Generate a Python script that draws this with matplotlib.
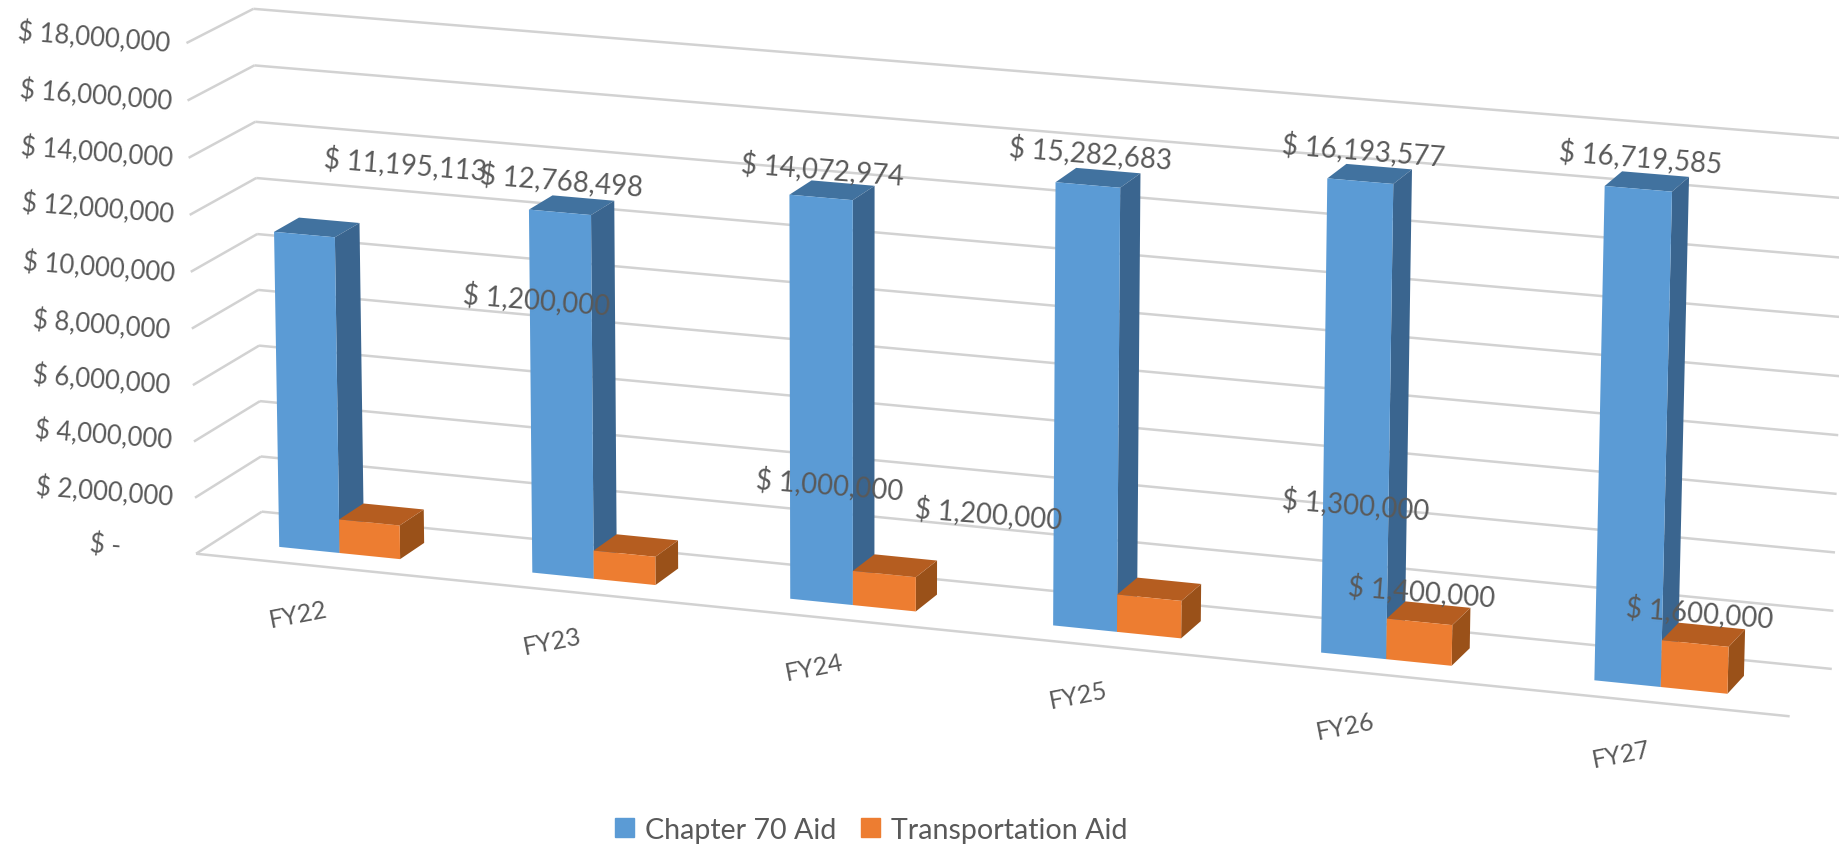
import numpy as np
import matplotlib
matplotlib.use("Agg")
import matplotlib.pyplot as plt
from matplotlib.patches import Patch
from mpl_toolkits.mplot3d.art3d import Line3DCollection

W, H = 1839, 845
categories = ["FY22", "FY23", "FY24", "FY25", "FY26", "FY27"]
chapter70 = [11195113, 12768498, 14072974, 15282683, 16193577, 16719585]
transport = [1200000, 1000000, 1200000, 1300000, 1400000, 1600000]
yticks = [0, 2000000, 4000000, 6000000, 8000000, 10000000, 12000000, 14000000, 16000000, 18000000]
series_names = ["Chapter 70 Aid", "Transportation Aid"]

# camera calibration: world points (category, depth, $M) -> reference pixels
world_anchor = [(0, 0, 0), (0, 1, 0), (0, 0, 18), (0, 1, 18), (6, 0, 0), (6, 1, 0), (6, 1, 18),
                (0.25, 0.31, 11.195), (0.25, 0.31, 0), (5.25, 0.31, 16.72), (5.25, 0.31, 0)]
pixel_anchor = [(196, 554), (261, 512), (186, 43), (254, 10), (1789, 717), (1832, 670), (1846, 139),
                (274, 235), (280, 548), (1605, 187), (1595, 682)]

# layout of text in reference pixels
ytick_pos = [(105, 546), (104, 493), (103, 436), (101.5, 381), (101, 326), (99, 268), (98, 209), (97, 153), (95.5, 96), (94, 38)]
cat_pos = [(298, 615), (552, 642), (814, 668), (1078, 696), (1345, 727), (1621, 755)]
lab1_pos = [(405, 165), (561, 181), (822, 170), (1090, 154), (1364, 151), (1641, 158)]
lab2_pos = [(537, 300), (830, 485), (989, 514), (1356, 505), (1422, 592), (1700, 613)]

BAR_START, BAR_W, D0, D1 = 0.25, 0.24, 0.31, 0.69
BLUE, BLUE_TOP, BLUE_SIDE = "#5B9BD5", "#41729F", "#3A658F"
ORNG, ORNG_TOP, ORNG_SIDE = "#ED7D31", "#B55D20", "#9A5119"
GRID, TXT = "#D2D2D2", "#595959"
FONT = ["Lato", "DejaVu Sans"]


def fit_camera(world, pixel):
    rows = []
    for (x, y, z), (u, v) in zip(world, pixel):
        v = H - v
        rows.append([x, y, z, 1, 0, 0, 0, 0, -u * x, -u * y, -u * z, -u])
        rows.append([0, 0, 0, 0, x, y, z, 1, -v * x, -v * y, -v * z, -v])
    return np.linalg.svd(np.array(rows, float))[2][-1].reshape(3, 4)


CAM = fit_camera(world_anchor, pixel_anchor)
if CAM[2, 3] < 0:
    CAM = -CAM
CAM = CAM / CAM[2, 3]
CAM[:, 2] = CAM[:, 2] / 1e6  # z is in dollars on the axes

fig = plt.figure(figsize=(W / 100, H / 100), dpi=100, facecolor="white")
side = W / H
ax = fig.add_axes([0, (1 - side) / 2, 1, side], projection="3d", computed_zorder=False)
ax.set_axis_off()


def camera_proj():
    A = ax.transData.inverted().get_matrix()
    M = np.zeros((4, 4))
    M[0] = A[0, 0] * CAM[0] + A[0, 1] * CAM[1] + A[0, 2] * CAM[2]
    M[1] = A[1, 0] * CAM[0] + A[1, 1] * CAM[1] + A[1, 2] * CAM[2]
    M[2] = [0, 1, 0, 0]
    M[3] = CAM[2]
    return M


ax.get_proj = camera_proj

n = len(categories)
grid_segments = []
for t in yticks:
    grid_segments.append([(0, 0, t), (0, 1, t)])
    grid_segments.append([(0, 1, t), (n, 1, t)])
grid_segments.append([(0, 0, 0), (n, 0, 0)])
ax.add_collection3d(Line3DCollection(grid_segments, colors=GRID, linewidths=1.8, zorder=1))


def faces(front, top, side_c):
    hide = (0, 0, 0, 0)
    return [hide, top, front, hide, hide, side_c] * n


xs = np.arange(n) + BAR_START
ax.bar3d(xs, [D0] * n, [0] * n, BAR_W, D1 - D0, chapter70,
         color=faces(BLUE, BLUE_TOP, BLUE_SIDE), shade=False, edgecolor="none", zorder=2)
ax.bar3d(xs + BAR_W, [D0] * n, [0] * n, BAR_W, D1 - D0, transport,
         color=faces(ORNG, ORNG_TOP, ORNG_SIDE), shade=False, edgecolor="none", zorder=3)


def label(pos, s, size, rot):
    fig.text(pos[0] / W, 1 - pos[1] / H, s, fontsize=size, rotation=rot, color=TXT, family=FONT,
             ha="center", va="center", rotation_mode="anchor", zorder=5)


def money(v):
    return "$ -" if v == 0 else f"$ {v:,.0f}"


for t, p in zip(yticks, ytick_pos):
    label(p, money(t), 18.5, -4.5)
for c, p in zip(categories, cat_pos):
    label(p, c, 18, 11)
for v, p in zip(chapter70, lab1_pos):
    label(p, money(v), 19.8, -4.5)
for v, p in zip(transport, lab2_pos):
    label(p, money(v), 19.8, -4.5)

fig.legend(handles=[Patch(color=BLUE, label=series_names[0]), Patch(color=ORNG, label=series_names[1])],
           loc="center", bbox_to_anchor=(871.5 / W, 1 - 831 / H), ncol=2, frameon=False,
           prop={"family": FONT, "size": 20.6}, labelcolor=TXT, handlelength=0.65, handleheight=0.65,
           handletextpad=0.4, columnspacing=0.85, borderpad=0, borderaxespad=0)

fig.savefig("out.png", dpi=100, facecolor="white")
